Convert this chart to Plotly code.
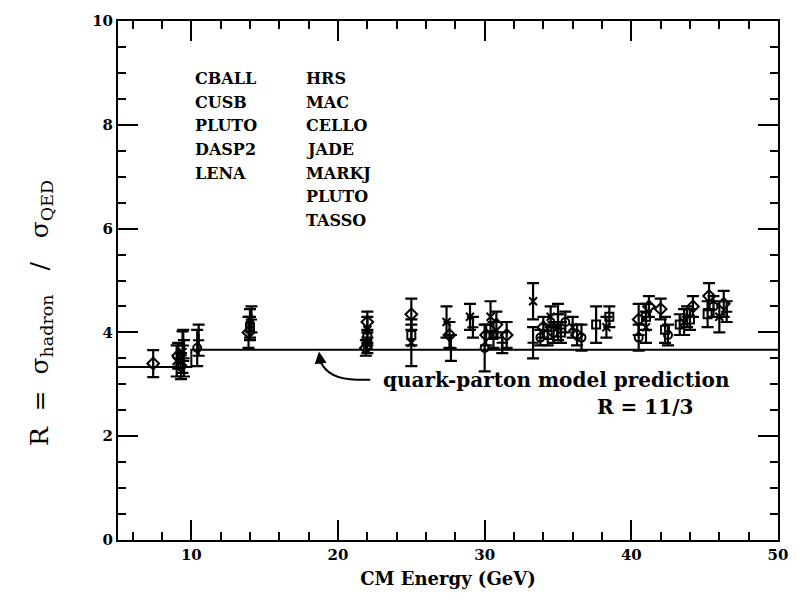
import plotly.graph_objects as go

# ---------------- data ----------------
# open diamonds
dia_x = [7.4, 9.1, 9.3, 13.9, 22.0, 21.9, 25.0, 27.6, 30.1, 30.8, 31.5, 34.0, 34.7, 36.3, 40.5, 41.2, 42.0, 44.2, 45.3, 46.3]
dia_y = [3.40, 3.55, 3.35, 4.00, 4.20, 3.70, 4.35, 3.95, 3.95, 4.15, 3.95, 4.10, 4.00, 3.95, 4.25, 4.50, 4.45, 4.50, 4.70, 4.55]
dia_e = [0.26, 0.25, 0.25, 0.30, 0.20, 0.15, 0.30, 0.25, 0.20, 0.25, 0.25, 0.20, 0.20, 0.20, 0.30, 0.20, 0.20, 0.20, 0.25, 0.25]

# crosses (x)
crx_x = [9.0, 9.4, 14.0, 22.0, 25.0, 27.4, 29.0, 30.4, 33.3, 34.5, 35.0, 36.0, 38.3, 41.0, 43.6, 46.0]
crx_y = [3.45, 3.62, 4.15, 4.05, 3.80, 4.20, 4.30, 4.30, 4.60, 4.30, 4.10, 4.10, 4.10, 4.10, 4.20, 4.30]
crx_e = [0.30, 0.40, 0.30, 0.25, 0.45, 0.30, 0.25, 0.30, 0.35, 0.20, 0.25, 0.20, 0.20, 0.30, 0.25, 0.30]

# open squares
sq_x = [14.0, 22.0, 25.0, 30.6, 34.3, 35.2, 37.6, 38.5, 41.0, 42.3, 43.3, 44.0, 45.2]
sq_y = [4.10, 3.90, 3.95, 3.95, 3.95, 4.00, 4.15, 4.30, 4.30, 4.05, 4.15, 4.25, 4.35]
sq_e = [0.20, 0.15, 0.20, 0.25, 0.20, 0.20, 0.35, 0.20, 0.25, 0.25, 0.20, 0.20, 0.25]

# open circles
cir_x = [10.4, 22.0, 30.0, 33.8, 35.5, 36.6, 40.5, 42.5, 45.6]
cir_y = [3.70, 3.75, 3.70, 3.90, 4.20, 3.90, 3.90, 3.95, 4.50]
cir_e = [0.35, 0.15, 0.45, 0.15, 0.20, 0.25, 0.25, 0.20, 0.20]

# plus signs
pls_x = [9.45, 9.5, 10.5, 14.1, 27.7, 29.2, 31.2, 33.3, 35.0, 43.8, 46.5]
pls_y = [3.75, 3.50, 3.85, 4.25, 3.70, 4.10, 3.80, 3.80, 4.35, 4.30, 4.40]
pls_e = [0.30, 0.35, 0.30, 0.25, 0.25, 0.20, 0.20, 0.30, 0.20, 0.20, 0.20]

# quark-parton model prediction (step at b threshold)
qpm_x = [5, 10, 10, 50]
qpm_y = [10 / 3, 10 / 3, 11 / 3, 11 / 3]

exp_col1 = ["CBALL", "CUSB", "PLUTO", "DASP2", "LENA"]
exp_col2 = ["HRS", "MAC", "CELLO", "JADE", "MARKJ", "PLUTO", "TASSO"]

FONT = "DejaVu Serif"
NB = "\u00a0"

fig = go.Figure()

fig.add_trace(go.Scatter(x=qpm_x, y=qpm_y, mode="lines",
                         line=dict(color="black", width=2), showlegend=False, hoverinfo="skip"))

def add_series(xs, ys, es, symbol, size=8):
    fig.add_trace(go.Scatter(
        x=xs, y=ys, mode="markers",
        marker=dict(symbol=symbol, size=size, color="black",
                    line=dict(color="black", width=2)),
        error_y=dict(type="data", array=es, visible=True, color="black",
                     thickness=2.2, width=6),
        showlegend=False))

add_series(dia_x, dia_y, dia_e, "diamond-open", 9)
add_series(crx_x, crx_y, crx_e, "x-thin-open", 8)
add_series(sq_x, sq_y, sq_e, "square-open", 8)
add_series(cir_x, cir_y, cir_e, "circle-open", 8)
add_series(pls_x, pls_y, pls_e, "cross-thin-open", 8)

# experiment labels
annots = []
row_h = 24 / 525
top_y = (540 - 73) / 525
lab_font = dict(family=FONT, size=16, color="black", weight="bold")
for i, name in enumerate(exp_col1):
    annots.append(dict(xref="paper", yref="paper", x=(193 - 118) / 664, y=top_y - i * row_h,
                       text=name, showarrow=False, xanchor="left", yanchor="middle",
                       font=lab_font))
for i, name in enumerate(exp_col2):
    annots.append(dict(xref="paper", yref="paper", x=(305 - 118) / 664, y=top_y - i * row_h,
                       text=name, showarrow=False, xanchor="left", yanchor="middle",
                       font=lab_font))

txt_font = dict(family=FONT, size=20, color="black", weight="bold")
annots.append(dict(xref="paper", yref="paper", x=(383 - 118) / 664, y=(540 - 378) / 525,
                   text="quark-parton model prediction", showarrow=False,
                   xanchor="left", yanchor="middle", font=txt_font))
annots.append(dict(xref="paper", yref="paper", x=(598 - 118) / 664, y=(540 - 405) / 525,
                   text="R = 11/3", showarrow=False,
                   xanchor="left", yanchor="middle", font=txt_font))
# arrow head at the line
annots.append(dict(x=18.7, y=3.63, xref="x", yref="y", ax=2, ay=14,
                   text="", showarrow=True, arrowhead=2, arrowsize=1.2,
                   arrowwidth=2, arrowcolor="black"))
# y axis title (placed as rotated text)
annots.append(dict(xref="paper", yref="paper", x=(40 - 118) / 664, y=(540 - 310) / 525,
                   text="R" + NB * 2 + "=" + NB * 2 + "\u03c3<sub>hadron</sub>" + NB * 3 + "/" + NB * 3 + "\u03c3<sub>QED</sub>",
                   textangle=-90, showarrow=False, xanchor="center", yanchor="middle",
                   font=dict(family=FONT, size=25, color="black")))

fig.update_layout(
    width=800, height=601,
    margin=dict(l=118, r=18, t=15, b=61),
    paper_bgcolor="white", plot_bgcolor="white",
    font=dict(family=FONT, size=15, color="black"),
    annotations=annots,
    shapes=[dict(type="path", xref="x", yref="y",
                 path="M 22.2,3.09 L 21.3,3.09 Q 19.3,3.09 18.8,3.45",
                 line=dict(color="black", width=2))],
)

tick_font = dict(family=FONT, size=15, weight="bold")
fig.update_xaxes(range=[5, 50], showline=True, linecolor="black", linewidth=2,
                 mirror="ticks", ticks="inside", ticklen=20, tickwidth=1.8, tickcolor="black",
                 tickvals=[10, 20, 30, 40, 50], showgrid=False, zeroline=False,
                 tickfont=tick_font,
                 minor=dict(dtick=2, tick0=0, ticks="inside", ticklen=8, tickwidth=1.5, tickcolor="black", showgrid=False),
                 title=dict(text="CM Energy (GeV)", font=dict(family=FONT, size=18, weight="bold"), standoff=9))
fig.update_yaxes(range=[0, 10], showline=True, linecolor="black", linewidth=2,
                 mirror="ticks", ticks="inside", ticklen=20, tickwidth=1.8, tickcolor="black",
                 tickvals=[0, 2, 4, 6, 8, 10], showgrid=False, zeroline=False,
                 tickfont=tick_font,
                 minor=dict(dtick=0.5, ticks="inside", ticklen=8, tickwidth=1.5, tickcolor="black", showgrid=False))

fig.write_html("out.html")
